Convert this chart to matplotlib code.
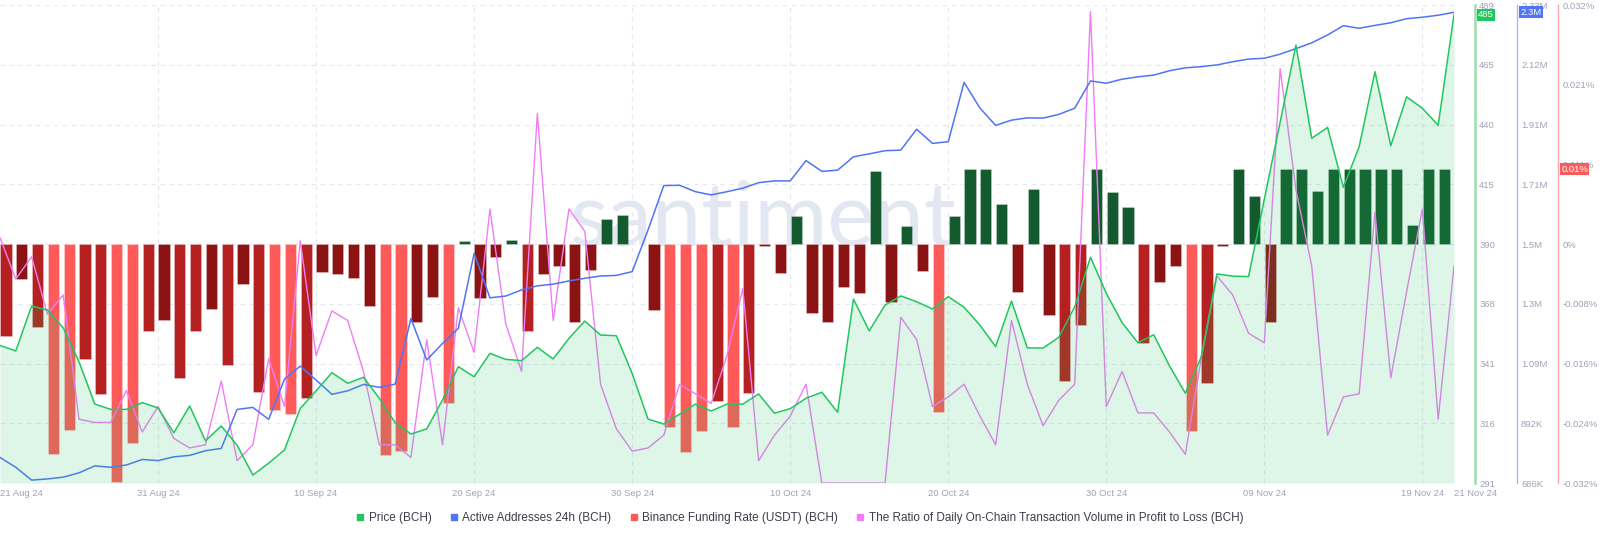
import numpy as np
import pandas as pd
import matplotlib
matplotlib.use('Agg')
import matplotlib.pyplot as plt
from matplotlib.lines import Line2D
from matplotlib.transforms import blended_transform_factory

plt.rcParams['font.family'] = ['Liberation Sans', 'DejaVu Sans']

# Daily data, 21 Aug 24 .. 21 Nov 24
dates = pd.date_range('2024-08-21', '2024-11-21', freq='D')

price = [348.0, 345.7, 364.3, 362.7, 355.3, 341.2, 323.7, 321.5, 321.5, 324.3,
         322.1, 311.8, 322.9, 308.5, 314.6, 306.7, 294.3, 299.2, 304.7, 321.9,
         329.2, 336.7, 332.3, 334.8, 326.1, 316.0, 311.3, 313.4, 325.4, 339.2,
         335.0, 344.7, 342.2, 341.7, 347.2, 342.4, 350.9, 358.1, 352.3, 352.0,
         336.4, 317.5, 315.4, 319.5, 323.7, 320.8, 323.7, 323.7, 327.9, 319.9,
         321.8, 326.1, 328.6, 320.3, 367.2, 354.0, 364.7, 368.5, 366.1, 363.1,
         368.2, 363.8, 356.4, 347.5, 366.4, 347.0, 346.9, 351.4, 364.0, 384.5,
         369.6, 357.4, 349.1, 352.4, 339.5, 328.2, 343.1, 377.6, 376.7, 376.5,
         408.6, 440.5, 472.4, 433.8, 438.3, 413.5, 430.3, 461.4, 430.7, 451.0,
         446.2, 439.2, 485.0]

# thousands
active_addresses = [774, 740, 696, 700, 706, 721, 745, 740, 748, 767,
                    763, 776, 781, 797, 805, 939, 946, 905, 1043, 1088,
                    1040, 991, 1003, 1025, 1015, 1026, 1252, 1109, 1166, 1218,
                    1476, 1323, 1329, 1350, 1364, 1370, 1381, 1390, 1398, 1400,
                    1413, 1556, 1709, 1710, 1688, 1677, 1688, 1700, 1719, 1725,
                    1725, 1795, 1758, 1762, 1808, 1818, 1829, 1831, 1903, 1854,
                    1860, 2064, 1976, 1916, 1934, 1942, 1941, 1954, 1975, 2069,
                    2061, 2075, 2083, 2089, 2104, 2114, 2118, 2124, 2135, 2144,
                    2147, 2161, 2180, 2200, 2227, 2259, 2250, 2260, 2269, 2283,
                    2288, 2295, 2305]

# percent
funding_rate = [-0.0123, -0.0047, -0.0111, -0.0281, -0.0249, -0.0154, -0.0201, -0.0318, -0.0266, -0.0117,
                -0.0102, -0.0179, -0.0117, -0.0087, -0.0162, -0.0054, -0.0198, -0.0222, -0.0227, -0.0206,
                -0.0038, -0.0040, -0.0046, -0.0083, -0.0283, -0.0277, -0.0104, -0.0071, -0.0213, 0.0004,
                -0.0072, -0.0018, 0.0005, -0.0117, -0.0040, -0.0029, -0.0105, -0.0035, 0.0033, 0.0039,
                0.0000, -0.0088, -0.0245, -0.0279, -0.0250, -0.0210, -0.0245, -0.0200, -0.0002, -0.0039,
                0.0038, -0.0092, -0.0105, -0.0058, -0.0065, 0.0098, -0.0077, 0.0024, -0.0036, -0.0225,
                0.0038, 0.0100, 0.0100, 0.0054, -0.0064, 0.0074, -0.0095, -0.0183, -0.0109, 0.0100,
                0.0070, 0.0049, -0.0132, -0.0051, -0.0030, -0.0251, -0.0186, -0.0002, 0.0100, 0.0064,
                -0.0105, 0.0100, 0.0100, 0.0071, 0.0100, 0.0100, 0.0100, 0.0100, 0.0100, 0.0025,
                0.0100, 0.0100]

profit_loss_ratio = [1.17, 1.04, 1.11, 0.93, 0.99, 0.60, 0.59, 0.59, 0.69, 0.56,
                     0.64, 0.54, 0.51, 0.52, 0.72, 0.47, 0.52, 0.79, 0.64, 1.16,
                     0.80, 0.94, 0.91, 0.75, 0.52, 0.52, 0.48, 0.85, 0.52, 0.95,
                     0.81, 1.26, 0.90, 0.75, 1.56, 0.91, 1.26, 1.19, 0.71, 0.57,
                     0.50, 0.51, 0.55, 0.71, 0.68, 0.65, 0.80, 1.01, 0.47, 0.55,
                     0.61, 0.71, 0.40, 0.40, 0.40, 0.40, 0.40, 0.92, 0.85, 0.64,
                     0.67, 0.71, 0.61, 0.52, 0.91, 0.71, 0.58, 0.66, 0.71, 1.88,
                     0.64, 0.75, 0.62, 0.62, 0.56, 0.49, 0.79, 1.05, 0.99, 0.87,
                     0.84, 1.70, 1.32, 1.08, 0.55, 0.67, 0.68, 1.25, 0.73, 1.00,
                     1.26, 0.60, 1.08]

price_labels = ['291', '316', '341', '368', '390', '415', '440', '465', '489']
addr_labels = ['686K', '892K', '1.09M', '1.3M', '1.5M', '1.71M', '1.91M', '2.12M', '2.33M']
funding_labels = ['-0.032%', '-0.024%', '-0.016%', '-0.008%', '0%', '0.011%', '0.021%', '0.032%']

GREEN = '#22C55E'
BLUE = '#4F74F5'
RED = '#FF5A5A'
PINK = '#F07DF5'
TICK_C = '#9EA3B6'
GRID_C = '#E6E8F1'

x = np.arange(len(dates))
n_days = len(dates) - 1

fig = plt.figure(figsize=(16, 5.41), dpi=100)
ax = fig.add_axes([0, 0.1072, 0.90875, 0.8835])

# grid (behind everything)
ax.hlines(np.linspace(-0.032, 0.032, 9), 0, n_days, colors=GRID_C, lw=0.8,
          linestyles=(0, (4, 4)), zorder=0)
ax.vlines(range(10, n_days, 10), -0.032, 0.032, colors=GRID_C, lw=0.8,
          linestyles=(0, (4, 4)), zorder=0)

ax.text(0.524, 0.55, 'santiment', transform=ax.transAxes, ha='center', va='center',
        fontsize=64, color='#E3E7F1', family=['Lato', 'DejaVu Sans'], zorder=0.5)

# funding rate bars, shade by size
def bar_color(v):
    if v >= 0:
        return '#135A2E'
    if v <= -0.0211:
        return RED
    if v <= -0.0107:
        return '#B52020'
    return '#8B1313'

bar_x = np.arange(len(funding_rate))
ax.bar(bar_x + 0.02, funding_rate, width=0.71, align='edge',
       color=[bar_color(v) for v in funding_rate],
       edgecolor=(1, 1, 1, 0.3), linewidth=0.6, zorder=2)
ax.set_xlim(0, n_days)
ax.set_ylim(-0.032, 0.032)

# other series on twin axes (drawn in creation order)
ax_ratio = ax.twinx()
ax_ratio.plot(x, profit_loss_ratio, color=PINK, lw=1.0)
ax_ratio.set_ylim(0.4, 1.9)
ax_ratio.set_axis_off()

ax_addr = ax.twinx()
ax_addr.plot(x, active_addresses, color=BLUE, lw=1.1)
ax_addr.set_ylim(686, 2330)

ax_price = ax.twinx()
ax_price.fill_between(x, price, 291, color=GREEN, alpha=0.15, lw=0)
ax_price.plot(x, price, color=GREEN, lw=1.1)
ax_price.set_ylim(291, 489)

ax.yaxis.tick_right()

# right axes
for a, pos, col, lw in [(ax_price, 1.0144, '#9FDDAE', 1.8),
                        (ax_addr, 1.0433, '#A8B4F8', 1.0),
                        (ax, 1.0715, '#F8A8A8', 1.0)]:
    for s in ['left', 'top', 'bottom']:
        a.spines[s].set_visible(False)
    a.spines['right'].set_position(('axes', pos))
    a.spines['right'].set_color(col)
    a.spines['right'].set_linewidth(lw)
    a.tick_params(axis='y', length=0, pad=3, labelsize=6.8, colors=TICK_C)

ax_price.set_yticks(np.linspace(291, 489, 9))
ax_price.set_yticklabels(price_labels)
ax_addr.set_yticks(np.linspace(686, 2330, 9))
ax_addr.set_yticklabels(addr_labels)
ax.set_yticks([-0.032, -0.024, -0.016, -0.008, 0, 0.032 / 3, 0.064 / 3, 0.032])
ax.set_yticklabels(funding_labels)

# current value badges
def badge(a, xpos, y, txt, col):
    tr = blended_transform_factory(a.transAxes, a.transData)
    a.text(xpos, y, txt, transform=tr, ha='left', va='center', fontsize=6.8,
           color='white', bbox=dict(boxstyle='square,pad=0.15', fc=col, ec='none'))

badge(ax_price, 1.0165, price[-1], f'{price[-1]:.0f}', GREEN)
badge(ax_addr, 1.0455, active_addresses[-1], f'{active_addresses[-1] / 1000:.1f}M', BLUE)
badge(ax, 1.0737, funding_rate[-1], f'{funding_rate[-1]:.2f}%', RED)

# x axis
xt = list(range(0, n_days, 10)) + [n_days]
ax.set_xticks(xt)
ax.set_xticklabels([dates[i].strftime('%d %b %y') for i in xt])
ax.tick_params(axis='x', length=0, pad=4, labelsize=6.8, colors=TICK_C)
lbls = ax.get_xticklabels()
lbls[0].set_ha('left')
lbls[-1].set_ha('left')

handles = [Line2D([], [], marker='s', ls='none', ms=5, color=c) for c in [GREEN, BLUE, RED, PINK]]
names = ['Price (BCH)', 'Active Addresses 24h (BCH)', 'Binance Funding Rate (USDT) (BCH)',
         'The Ratio of Daily On-Chain Transaction Volume in Profit to Loss (BCH)']
fig.legend(handles, names, loc='center', bbox_to_anchor=(0.5, 0.042), ncol=4, frameon=False,
           fontsize=8.5, handlelength=0.6, handletextpad=0.4, columnspacing=1.6,
           labelcolor='#3A3D4A')

fig.savefig('out.png', dpi=100)
